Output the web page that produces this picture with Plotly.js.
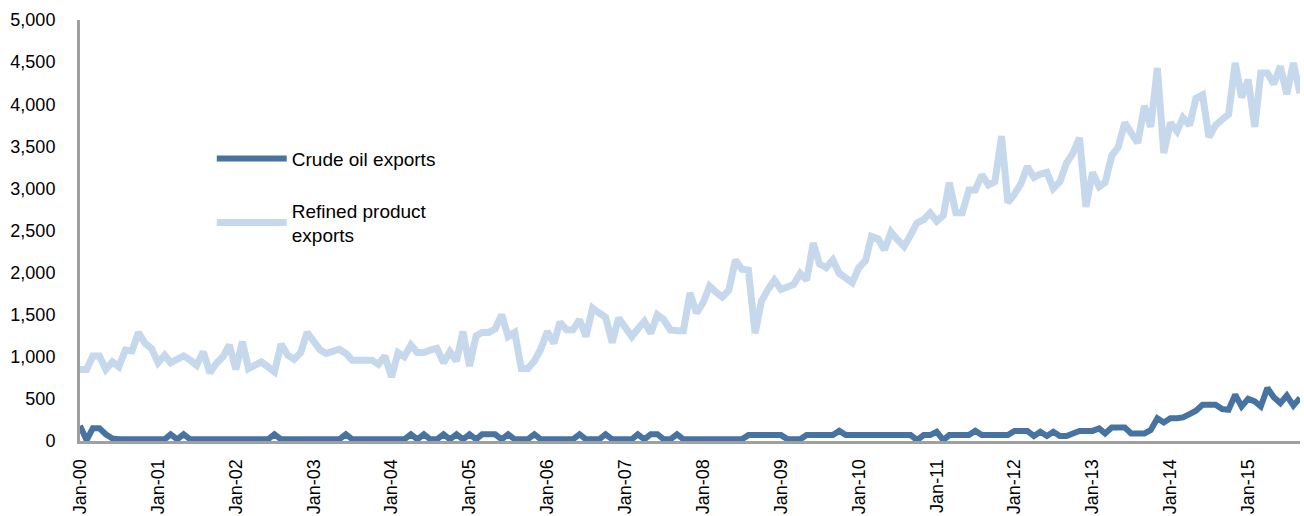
<!DOCTYPE html>
<html>
<head>
<meta charset="utf-8">
<script src="https://cdn.plot.ly/plotly-3.0.1.min.js"></script>
<style>html,body{margin:0;padding:0;background:#fff;}#chart{width:1304px;height:516px;}</style>
</head>
<body>
<div id="chart"></div>
<script>
// Monthly series, Jan-2000 .. Sep-2015
const crudeExports = [
  180, 10, 150, 150, 80, 30, 20, 20, 20, 20,
  20, 20, 20, 20, 80, 20, 80, 20, 20, 20,
  20, 20, 20, 20, 20, 20, 20, 20, 20, 20,
  80, 20, 20, 20, 20, 20, 20, 20, 20, 20,
  20, 80, 20, 20, 20, 20, 20, 20, 20, 20,
  20, 80, 20, 80, 20, 20, 80, 20, 80, 20,
  80, 20, 80, 80, 80, 20, 80, 20, 20, 20,
  80, 20, 20, 20, 20, 20, 20, 80, 20, 20,
  20, 80, 20, 20, 20, 20, 80, 20, 80, 80,
  20, 20, 80, 20, 20, 20, 20, 20, 20, 20,
  20, 20, 20, 70, 70, 70, 70, 70, 70, 20,
  20, 20, 70, 70, 70, 70, 70, 120, 70, 70,
  70, 70, 70, 70, 70, 70, 70, 70, 70, 10,
  70, 70, 110, 10, 70, 70, 70, 70, 120, 70,
  70, 70, 70, 70, 120, 120, 120, 60, 110, 60,
  110, 60, 60, 90, 120, 120, 120, 150, 90, 160,
  160, 160, 90, 90, 90, 130, 270, 220, 270, 270,
  280, 320, 360, 430, 430, 430, 380, 370, 550, 410,
  500, 470, 410, 630, 520, 450, 540, 420, 510
];
const refinedExports = [
  850, 850, 1010, 1010, 850, 940, 880, 1080, 1070, 1290,
  1160, 1100, 930, 1020, 930, 970, 1010, 960, 900, 1060,
  810, 920, 1000, 1140, 850, 1180, 860, 900, 940, 880,
  820, 1150, 1020, 970, 1050, 1290, 1190, 1080, 1040, 1060,
  1090, 1040, 960, 960, 960, 960, 910, 1010, 760, 1050,
  1000, 1140, 1050, 1050, 1080, 1100, 930, 1060, 950, 1300,
  890, 1250, 1290, 1290, 1330, 1500, 1240, 1290, 860, 860,
  950, 1090, 1300, 1160, 1410, 1320, 1320, 1440, 1240, 1580,
  1520, 1470, 1170, 1460, 1350, 1240, 1330, 1420, 1280, 1500,
  1440, 1320, 1310, 1310, 1760, 1520, 1640, 1840, 1770, 1710,
  1790, 2150, 2040, 2030, 1280, 1660, 1800, 1910, 1800, 1830,
  1860, 1990, 1910, 2350, 2100, 2060, 2150, 1990, 1940, 1880,
  2060, 2140, 2430, 2400, 2270, 2480, 2390, 2310, 2450, 2590,
  2630, 2710, 2610, 2680, 3070, 2710, 2710, 2980, 2980, 3160,
  3040, 3080, 3620, 2830, 2930, 3060, 3260, 3130, 3170, 3190,
  3000, 3080, 3300, 3420, 3600, 2780, 3190, 3020, 3070, 3390,
  3490, 3780, 3660, 3540, 3980, 3730, 4430, 3420, 3780, 3680,
  3840, 3750, 4070, 4110, 3610, 3750, 3820, 3880, 4490, 4080,
  4290, 3730, 4370, 4370, 4240, 4450, 4120, 4490, 4130
];
const seriesNames = ['Crude oil exports', 'Refined product<br>exports'];
const startYear = 2000;

const months = crudeExports.map((_, i) => {
  const y = startYear + Math.floor(i / 12);
  const m = (i % 12) + 1;
  return y + '-' + String(m).padStart(2, '0') + '-01';
});

const font = {family: 'Liberation Sans, Arial, sans-serif', size: 18, color: '#000'};
const legendFont = {family: 'Liberation Sans, Arial, sans-serif', size: 19, color: '#000'};

const traces = [
  {x: months, y: crudeExports, name: seriesNames[0], type: 'scatter', mode: 'lines',
   line: {color: '#4673A2', width: 6}, legendgroup: 'a'},
  {x: months, y: refinedExports, name: seriesNames[1], type: 'scatter', mode: 'lines',
   line: {color: '#C5D8EC', width: 7}, legendgroup: 'b'}
];

const layout = {
  width: 1304, height: 516,
  margin: {l: 80, r: 4, t: 20, b: 75},
  paper_bgcolor: '#fff', plot_bgcolor: '#fff',
  font: font,
  showlegend: true,
  legend: {x: 0.108, y: 0.716, xanchor: 'left', yanchor: 'top', bgcolor: 'rgba(0,0,0,0)',
           font: legendFont, traceorder: 'grouped', tracegroupgap: 24, itemwidth: 70},
  xaxis: {
    type: 'date',
    range: [months[0], months[months.length - 1]],
    tickformat: '%b-%y', dtick: 'M12', tick0: months[0],
    tickangle: -90, ticks: '', showgrid: false, zeroline: false,
    showline: true, linecolor: '#a0a0a0', linewidth: 3,
    ticklabelstandoff: 8, tickfont: font
  },
  yaxis: {
    range: [0, 5000], dtick: 500, tickformat: ',d',
    ticks: '', showgrid: false, zeroline: false,
    showline: true, linecolor: '#a0a0a0', linewidth: 3,
    ticklabelstandoff: 18, tickfont: font
  }
};

Plotly.newPlot('chart', traces, layout, {displayModeBar: false, staticPlot: true});
</script>
</body>
</html>
